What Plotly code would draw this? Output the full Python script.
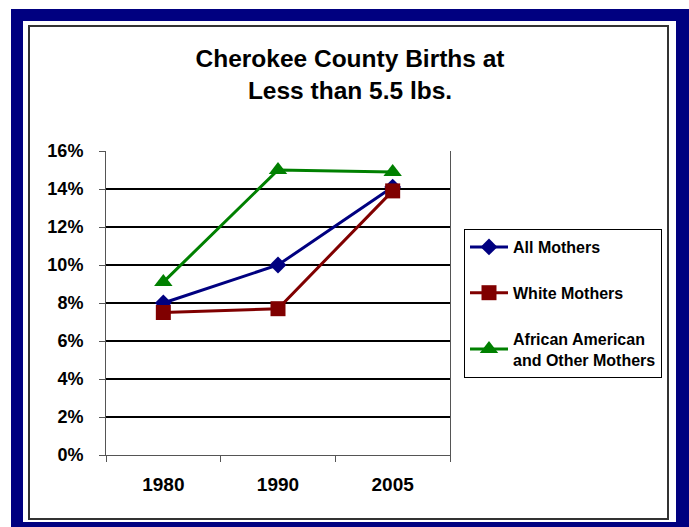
import plotly.graph_objects as go

# data
years = ["1980", "1990", "2005"]
all_mothers = [8.0, 10.0, 14.1]
white_mothers = [7.5, 7.7, 13.9]
african_other_mothers = [9.1, 15.0, 14.9]

W, H = 689, 527
FONT = "Liberation Sans, Arial, Helvetica, sans-serif"


def px_x(x):
    return x / W


def px_y(y):
    return 1 - y / H


series = [
    ("All Mothers", all_mothers, "#000080", "diamond", 13),
    ("White Mothers", white_mothers, "#800000", "square", 15),
    ("African American<br>and Other Mothers", african_other_mothers, "#008000", "triangle-up", 16),
]

fig = go.Figure()
for i, (name, vals, color, symbol, size) in enumerate(series):
    fig.add_trace(go.Scatter(
        x=years,
        y=vals,
        name=name,
        mode="lines+markers",
        legendgroup=f"g{i}",
        line=dict(color=color, width=3),
        marker=dict(symbol=symbol, size=size, color=color),
    ))

shapes = [
    # navy frame
    dict(type="rect", xref="paper", yref="paper", layer="below",
         x0=px_x(11), x1=1, y0=0, y1=px_y(9),
         fillcolor="#000080", line=dict(width=0)),
    dict(type="rect", xref="paper", yref="paper", layer="below",
         x0=px_x(23), x1=px_x(676), y0=px_y(522), y1=px_y(21),
         fillcolor="white", line=dict(width=0)),
    # inner chart box
    dict(type="rect", xref="paper", yref="paper", layer="below",
         x0=px_x(29), x1=px_x(668), y0=px_y(519), y1=px_y(26),
         fillcolor="white", line=dict(color="#333333", width=2)),
]

fig.update_layout(
    width=W,
    height=H,
    autosize=False,
    margin=dict(l=0, r=0, t=0, b=0, autoexpand=False),
    paper_bgcolor="white",
    plot_bgcolor="rgba(0,0,0,0)",
    font=dict(family=FONT, color="black"),
    shapes=shapes,
    title=dict(
        text="<b>Cherokee County Births at<br>Less than 5.5 lbs.</b>",
        x=px_x(350), xanchor="center",
        y=px_y(67), yanchor="middle",
        font=dict(family=FONT, size=24.5, color="black"),
    ),
    xaxis=dict(
        domain=[px_x(106), px_x(450)],
        type="category",
        range=[-0.5, 2.5],
        automargin=False,
        showgrid=False,
        showline=True,
        linecolor="#555555",
        linewidth=1,
        ticks="outside",
        tickson="boundaries",
        ticklen=6,
        tickcolor="#555555",
        ticklabelstandoff=12,
        tickfont=dict(family=FONT, size=19, weight="bold"),
    ),
    yaxis=dict(
        domain=[px_y(455), px_y(151)],
        range=[0, 16],
        dtick=2,
        ticksuffix="%",
        automargin=False,
        showgrid=True,
        gridcolor="black",
        gridwidth=2,
        zeroline=True,
        zerolinecolor="#555555",
        zerolinewidth=1,
        showline=True,
        mirror=True,
        linecolor="#555555",
        linewidth=1,
        ticks="outside",
        ticklen=6,
        tickcolor="#555555",
        ticklabelstandoff=12,
        tickfont=dict(family=FONT, size=18, weight="bold"),
    ),
    showlegend=True,
    legend=dict(
        x=px_x(464), xanchor="left",
        y=px_y(229), yanchor="top",
        bgcolor="white",
        bordercolor="black",
        borderwidth=1,
        itemwidth=38,
        tracegroupgap=22,
        font=dict(family=FONT, size=16, color="black", weight="bold"),
    ),
)

# pin the figure to the window origin, no page margin or scrolling
page_css = (
    "document.documentElement.style.margin='0';"
    "document.documentElement.style.overflow='hidden';"
    "document.body.style.margin='0';"
    "document.body.style.overflow='hidden';"
)
fig.write_html("out.html", config={"displayModeBar": False}, post_script=page_css)
